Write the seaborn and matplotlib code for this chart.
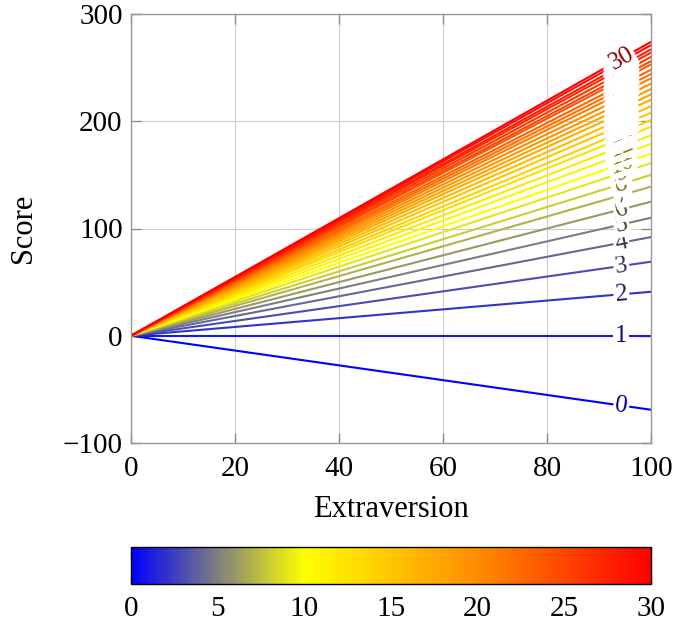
import numpy as np
import pandas as pd
import matplotlib
matplotlib.use("Agg")
import matplotlib.pyplot as plt
import matplotlib.colors as mcolors
import seaborn as sns

# ---- data ----
levels = list(range(0, 31))
# score reached at Extraversion = 100 for each contour level
end_scores = [-69, 0, 41, 69, 92, 110, 125, 139, 150, 161,
              170, 179, 187, 195, 201, 208, 214, 220, 225, 230,
              235, 240, 244, 248, 253, 256, 260, 264, 267, 271, 274]
x_range = [0, 100]
x_ticks = [0, 20, 40, 60, 80, 100]
y_ticks = [-100, 0, 100, 200, 300]
cbar_ticks = [0, 5, 10, 15, 20, 25, 30]
label_x = 94.3

sns.set_theme(style="whitegrid")
plt.rcParams["font.family"] = ["Liberation Serif", "DejaVu Serif"]
plt.rcParams["text.color"] = "black"
plt.rcParams["axes.labelcolor"] = "black"

cmap = mcolors.LinearSegmentedColormap.from_list(
    "bgyr",
    [(0.0, (0, 0, 1)), (1/6, (0.5, 0.5, 0.5)), (1/3, (1, 1, 0)),
     (2/3, (1, 0.55, 0)), (1.0, (1, 0, 0))])
norm = mcolors.Normalize(0, 30)

rows = []
for k, e in zip(levels, end_scores):
    rows.append({"Extraversion": x_range[0], "Score": 0.0, "level": k})
    rows.append({"Extraversion": x_range[1], "Score": e, "level": k})
df = pd.DataFrame(rows)

fig = plt.figure(figsize=(6.73, 6.26), dpi=100)
ax = fig.add_axes([131/673, 1-443/626, 520/673, 429/626])

sns.lineplot(data=df, x="Extraversion", y="Score", hue="level",
             palette=cmap, hue_norm=(0, 30), legend=False,
             linewidth=1.5, ax=ax, estimator=None, units="level")

for k, e in zip(levels, end_scores):
    c = np.array(cmap(norm(k))[:3]) * 0.55
    ang = np.degrees(np.arctan2(e, 100))
    ax.text(label_x, e * label_x / 100, str(k), color=c, fontsize=18,
            ha="center", va="center", rotation=ang,
            transform_rotates_text=True, rotation_mode="anchor",
            bbox=dict(fc="white", ec="none", pad=1.2), zorder=3 + k * 0.01)

ax.set_xlim(0, 100)
ax.set_ylim(-100, 300)
ax.set_xticks(x_ticks)
ax.set_yticks(y_ticks)
ax.set_yticklabels([f"\u2212{abs(v)}" if v < 0 else str(v) for v in y_ticks])
ax.set_xlabel("Extraversion", fontsize=22, labelpad=10, color="black")
ax.set_ylabel("Score", fontsize=22, labelpad=18, color="black")
ax.tick_params(axis="x", pad=9)
ax.tick_params(labelsize=21, direction="in", length=7, color="0.55",
               labelcolor="black", width=1,
               bottom=True, left=True, top=True, right=True)
ax.tick_params(axis="y", pad=6)
ax.grid(True, color="0.8", linewidth=0.8)
for s in ax.spines.values():
    s.set_color("0.6")
    s.set_linewidth(1)
    s.set_visible(True)

cax = fig.add_axes([131/673, 1-584/626, 520/673, 37/626])
sm = matplotlib.cm.ScalarMappable(norm=norm, cmap=cmap)
cb = fig.colorbar(sm, cax=cax, orientation="horizontal")
cb.set_ticks(cbar_ticks)
cb.outline.set_edgecolor("black")
cb.outline.set_linewidth(1)
cax.tick_params(labelsize=21, direction="in", length=7, color="0.5",
                labelcolor="black", width=1, top=True, bottom=True, pad=9)

fig.savefig("out.png", dpi=100)
